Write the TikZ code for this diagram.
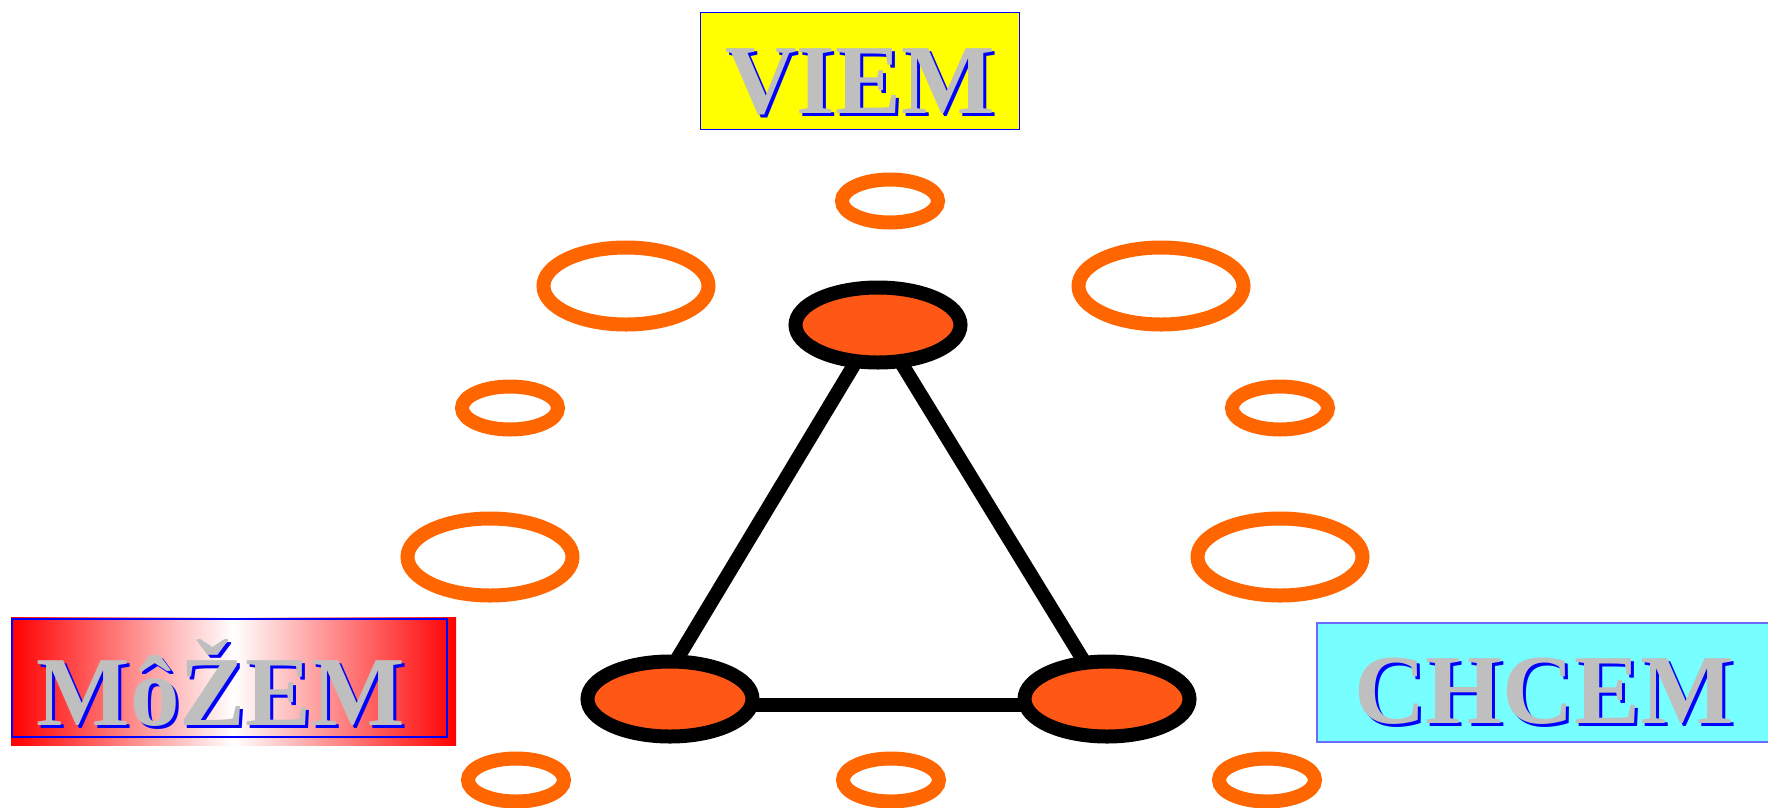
\documentclass[tikz,border=0pt]{standalone}
\usepackage{fontspec}
\newfontfamily\wordfont{Liberation Serif}
\usepackage{tikz}
\usetikzlibrary{positioning,shapes.geometric,backgrounds}
\definecolor{ring}{HTML}{FF6600}
\definecolor{core}{HTML}{FF5716}
\definecolor{frame}{HTML}{0000FF}
\definecolor{viemfill}{HTML}{FFFF00}
\definecolor{chcemfill}{HTML}{77FFFF}
\definecolor{chcemframe}{HTML}{6A6AFF}
\definecolor{letter}{HTML}{BFBFBF}

\tikzset{
  smallring/.style={ellipse, draw=ring, line width=14pt, minimum width=96pt, minimum height=43pt},
  bigring/.style={ellipse, draw=ring, line width=14pt, minimum width=165pt, minimum height=77pt},
  vertex/.style={ellipse, draw=black, fill=core, line width=14pt, minimum width=165pt, minimum height=75pt},
  edge/.style={line width=14pt},
  word/.style={font=\wordfont\bfseries\fontsize{99}{99}\selectfont, anchor=base},
  label box/.style={line width=1.3pt}
}

\begin{document}
\begin{tikzpicture}[x=1pt, y=-1pt, every node/.style={inner sep=0pt,outer sep=0pt}]
\useasboundingbox (0,0) rectangle (1768,807);
% RING: orange ellipses around the triangle
\node[smallring] (rtop) at (890,201) {};
\node[bigring] (rnw) at (626,286) {};
\node[bigring] (rne) at (1161,286) {};
\node[smallring] (rw) at (510,408) {};
\node[smallring] (re) at (1280,408) {};
\node[bigring] (rsw) at (490,557) {};
\node[bigring] (rse) at (1280,557) {};
\node[smallring] (rsbl) at (516,780) {};
\node[smallring] (rsbm) at (891,780) {};
\node[smallring] (rsbr) at (1267,780) {};
% TRIANGLE: three filled vertices joined by thick edges
\node[vertex] (top) at (878,325) {};
\node[vertex] (left) at (670,699) {};
\node[vertex] (right) at (1107,699) {};
\begin{scope}[on background layer]
\draw[edge] (top.center) -- ([xshift=-17pt]left.center);
\draw[edge] (top.center) -- (right.center);
\draw[edge] ([yshift=-6pt]left.center) -- ([yshift=-6pt]right.center);
\end{scope}
% VIEM: yellow box on top
\node[label box, draw=frame, fill=viemfill, minimum width=319pt, minimum height=117pt] (viembox) at (860,71) {};
\node[word, text=blue] (viemshade) at (863,116) {VIEM};
\node[word, text=letter] (viem) at ([shift={(-3,-3)}]viemshade.base) {VIEM};
% MOZEM: red-white-red box bottom left
\node[left color=red, right color=red, middle color=white, minimum width=445pt, minimum height=128pt] (mozembox) at (233.5,681) {};
\node[label box, draw=frame, minimum width=435pt, minimum height=118pt] (mozemframe) at (229.5,678) {};
\node[word, text=blue] (mozemshade) at (224,728) {MôŽEM};
\node[word, text=letter] (mozem) at ([shift={(-3,-3)}]mozemshade.base) {MôŽEM};
% CHCEM: cyan box bottom right
\node[label box, draw=chcemframe, fill=chcemfill, minimum width=458pt, minimum height=119pt] (chcembox) at (1546,682.5) {};
\node[word, text=blue] (chcemshade) at (1547,726) {CHCEM};
\node[word, text=letter] (chcem) at ([shift={(-3,-3)}]chcemshade.base) {CHCEM};
\end{tikzpicture}
\end{document}
